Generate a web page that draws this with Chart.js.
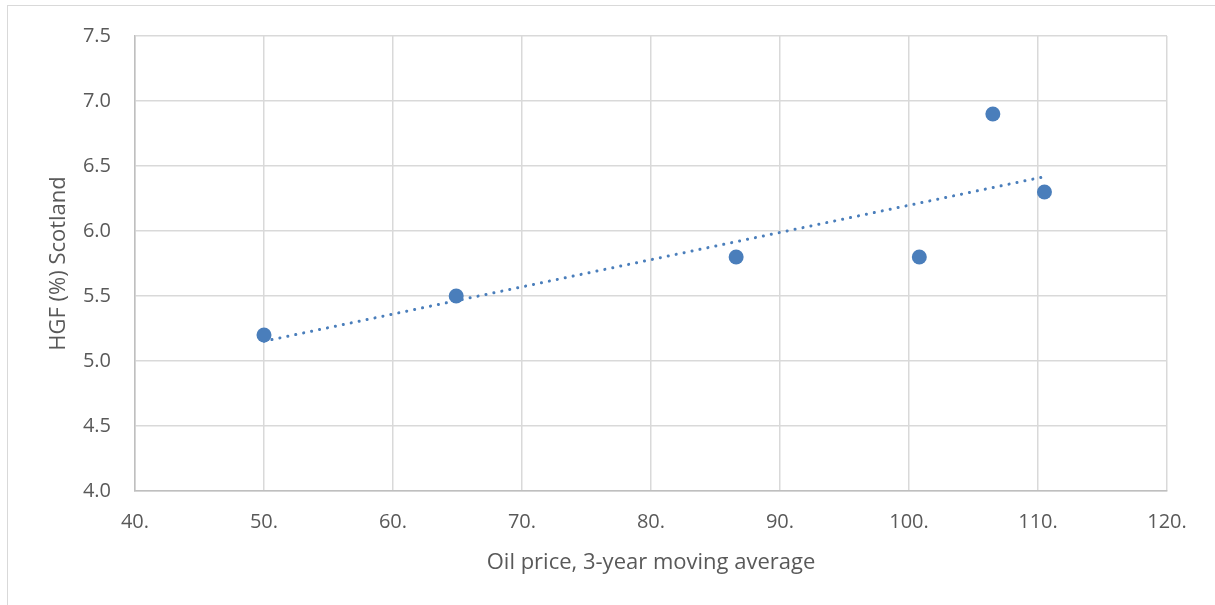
<!DOCTYPE html>
<html>
<head>
<meta charset="utf-8">
<script src="https://cdn.jsdelivr.net/npm/chart.js@4/dist/chart.umd.min.js"></script>
<style>
  html, body { margin: 0; padding: 0; background: #fff; }
  #wrap { position: relative; width: 1215px; height: 605px; overflow: hidden; }
  #frame { position: absolute; left: 7px; top: 5px; width: 1220px; height: 620px;
           border: 1.5px solid #d9d9d9; box-sizing: border-box; }
  #chart { position: absolute; left: 0; top: 0; }
</style>
</head>
<body>
<div id="wrap">
  <div id="frame"></div>
  <canvas id="chart" width="1215" height="605"></canvas>
</div>
<script>
// oil price (3-year moving average) vs HGF growth, Scotland
const oilPrice = [50.0, 64.9, 86.6, 100.8, 106.5, 110.5];
const hgfScotland = [5.2, 5.5, 5.8, 5.8, 6.9, 6.3];
const xTicks = [40, 50, 60, 70, 80, 90, 100, 110, 120];
const yTicks = [4.0, 4.5, 5.0, 5.5, 6.0, 6.5, 7.0, 7.5];

const points = oilPrice.map((x, i) => ({ x: x, y: hgfScotland[i] }));

// least squares trend line over the observed range
const n = points.length;
const mx = oilPrice.reduce((a, b) => a + b, 0) / n;
const my = hgfScotland.reduce((a, b) => a + b, 0) / n;
let sxy = 0, sxx = 0;
points.forEach(p => { sxy += (p.x - mx) * (p.y - my); sxx += (p.x - mx) * (p.x - mx); });
const slope = sxy / sxx;
const icpt = my - slope * mx;
const xMin = Math.min(...oilPrice), xMax = Math.max(...oilPrice);
const trend = [
  { x: xMin, y: icpt + slope * xMin },
  { x: xMax, y: icpt + slope * xMax }
];

const blue = '#4a7ebb';
const gridColor = '#d9d9d9';
const textColor = '#595959';
const font = 'Open Sans';

new Chart(document.getElementById('chart'), {
  type: 'scatter',
  data: {
    datasets: [
      {
        data: points,
        backgroundColor: blue,
        borderColor: blue,
        pointRadius: 7.5,
        pointHoverRadius: 7.5,
        borderWidth: 0,
        order: 1
      },
      {
        type: 'line',
        data: trend,
        borderColor: blue,
        borderWidth: 3,
        borderDash: [0.1, 8],
        borderCapStyle: 'round',
        pointRadius: 0,
        fill: false,
        order: 2
      }
    ]
  },
  options: {
    responsive: false,
    animation: false,
    layout: { padding: { top: 35, right: 48, left: 0, bottom: 0 } },
    plugins: { legend: { display: false }, tooltip: { enabled: false } },
    scales: {
      x: {
        type: 'linear',
        min: 40,
        max: 120,
        afterBuildTicks: s => { s.ticks = xTicks.map(v => ({ value: v })); },
        afterFit: s => { s.height = 114; },
        grid: { color: gridColor, lineWidth: 1.5, drawTicks: false },
        border: { color: '#bfbfbf', width: 1.5 },
        ticks: {
          color: textColor,
          font: { family: font, size: 20 },
          padding: 19,
          maxRotation: 0,
          callback: v => v + '.'
        },
        title: {
          display: true,
          text: 'Oil price, 3-year moving average',
          color: textColor,
          font: { family: font, size: 22 },
          padding: { top: 0, bottom: 29 }
        }
      },
      y: {
        type: 'linear',
        min: 4,
        max: 7.5,
        afterBuildTicks: s => { s.ticks = yTicks.map(v => ({ value: v })); },
        afterFit: s => { s.width = 135; },
        grid: { color: gridColor, lineWidth: 1.5, drawTicks: false },
        border: { color: '#bfbfbf', width: 1.5 },
        ticks: {
          color: textColor,
          font: { family: font, size: 20 },
          padding: 24,
          callback: v => v.toFixed(1)
        },
        title: {
          display: true,
          text: 'HGF (%) Scotland',
          color: textColor,
          font: { family: font, size: 22 },
          padding: { top: 46, bottom: 0 }
        }
      }
    }
  }
});
</script>
</body>
</html>
